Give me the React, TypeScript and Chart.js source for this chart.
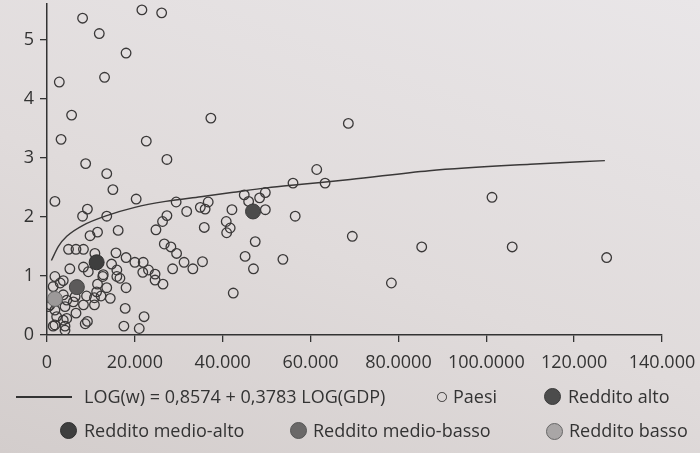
import React, { useEffect, useRef } from "react";
import { Chart, registerables } from "chart.js";

Chart.register(...registerables);

// GDP in thousands, w values
const paesiGdp = [
  8.1, 21.6, 26.1, 11.9, 18.0, 13.1, 2.8, 5.6, 37.3, 68.6, 3.2, 22.6, 27.3, 8.8, 13.6, 61.4, 56.0, 63.3,
  15.0, 1.8, 20.3, 9.2, 8.1, 13.6, 9.8, 11.5, 16.2, 4.9, 6.6, 8.3, 10.9, 15.7, 18.0, 20.0, 21.9, 14.7,
  5.2, 8.3, 9.4, 15.9, 21.8, 23.1, 24.6, 24.6, 26.4, 1.8, 3.7, 1.4, 12.7, 15.9, 13.6, 11.5, 18.0, 9.0,
  10.8, 12.3, 10.8, 8.3, 6.4, 4.5, 0.3, 1.8, 4.1, 6.6, 2.2, 3.7, 9.2, 8.7, 1.4, 4.1, 4.1, 17.8, 17.5,
  22.1, 21.0, 29.4, 31.8, 34.9, 36.7, 36.0, 27.3, 26.3, 24.8, 35.8, 26.7, 28.2, 29.5, 31.2, 33.2, 35.4,
  28.6, 40.8, 42.1, 40.9, 41.7, 44.9, 45.9, 48.4, 49.7, 49.7, 56.5, 47.4, 45.1, 47.0, 53.7, 42.4, 69.5,
  101.3, 85.3, 105.9, 127.4, 78.4, 3.0, 12.8, 16.6, 11.3, 4.5, 3.7, 6.0, 14.4, 1.8, 0.7,
];
const paesiW = [
  5.36, 5.5, 5.45, 5.1, 4.77, 4.36, 4.28, 3.72, 3.67, 3.58, 3.31, 3.28, 2.97, 2.9, 2.73, 2.8, 2.57, 2.57,
  2.46, 2.26, 2.3, 2.13, 2.01, 2.01, 1.68, 1.74, 1.77, 1.45, 1.45, 1.45, 1.38, 1.39, 1.31, 1.23, 1.23, 1.2,
  1.12, 1.15, 1.07, 1.1, 1.06, 1.1, 1.03, 0.93, 0.86, 0.99, 0.92, 0.82, 0.99, 0.99, 0.8, 0.86, 0.8, 0.66,
  0.63, 0.66, 0.51, 0.51, 0.65, 0.59, 0.48, 0.42, 0.48, 0.37, 0.31, 0.25, 0.23, 0.19, 0.15, 0.15, 0.08, 0.45, 0.15,
  0.31, 0.11, 2.25, 2.09, 2.16, 2.25, 2.13, 2.02, 1.92, 1.78, 1.82, 1.54, 1.49, 1.38, 1.23, 1.12, 1.24,
  1.12, 1.92, 2.12, 1.73, 1.81, 2.37, 2.26, 2.32, 2.41, 2.12, 2.01, 1.58, 1.33, 1.12, 1.28, 0.71, 1.67,
  2.33, 1.49, 1.49, 1.31, 0.88, 0.88, 1.02, 0.96, 0.73, 0.28, 0.68, 0.56, 0.62, 0.17, 0.51,
];

const curveGdp = [1.0, 2.6, 4.5, 8.3, 13.6, 20, 27, 35, 42, 50, 58, 69, 87, 110, 127];
const curveW = [1.26, 1.5, 1.67, 1.86, 2.02, 2.16, 2.26, 2.34, 2.41, 2.49, 2.55, 2.63, 2.78, 2.89, 2.95];

const altoGdp = [46.9];
const altoW = [2.09];
const medioAltoGdp = [11.3];
const medioAltoW = [1.23];
const medioBassoGdp = [6.8];
const medioBassoW = [0.81];
const bassoGdp = [1.8];
const bassoW = [0.61];

const xTickLabels = ["0", "20.000", "40.000", "60.000", "80.0000", "100.0000", "120.000", "140.000"];
const yTickLabels = ["0", "1", "2", "3", "4", "5"];

const legendLine = "LOG(w) = 0,8574 + 0,3783 LOG(GDP)";
const legendPaesi = "Paesi";
const legendAlto = "Reddito alto";
const legendMedioAlto = "Reddito medio-alto";
const legendMedioBasso = "Reddito medio-basso";
const legendBasso = "Reddito basso";

const FONT = "'Open Sans', 'Noto Sans', sans-serif";
const INK = "#333";

const pts = (xs: number[], ys: number[]) => xs.map((x, i) => ({ x, y: ys[i] }));

export default function App() {
  const ref = useRef<HTMLCanvasElement | null>(null);
  useEffect(() => {
    if (!ref.current) return;
    const tickFont = { family: FONT, size: 18 };
    const chart = new Chart(ref.current, {
      type: "scatter",
      data: {
        datasets: [
          {
            label: legendAlto,
            data: pts(altoGdp, altoW),
            pointRadius: 7.5,
            backgroundColor: "#4c4c4c",
            borderColor: "#3a3a3a",
            borderWidth: 1,
            order: 0,
          },
          {
            label: legendMedioAlto,
            data: pts(medioAltoGdp, medioAltoW),
            pointRadius: 7.5,
            backgroundColor: "#3e3e3e",
            borderColor: "#2e2e2e",
            borderWidth: 1,
            order: 0,
          },
          {
            label: legendMedioBasso,
            data: pts(medioBassoGdp, medioBassoW),
            pointRadius: 7.5,
            backgroundColor: "#5c5a5a",
            borderColor: "#444",
            borderWidth: 1,
            order: 0,
          },
          {
            label: legendBasso,
            data: pts(bassoGdp, bassoW),
            pointRadius: 7.5,
            backgroundColor: "#9c9999",
            borderColor: "#666",
            borderWidth: 1,
            order: 0,
          },
          {
            label: legendPaesi,
            data: pts(paesiGdp, paesiW),
            pointRadius: 4.8,
            backgroundColor: "rgba(0,0,0,0)",
            borderColor: "#3a3838",
            borderWidth: 1.3,
            order: 1,
          },
          {
            type: "line",
            label: legendLine,
            data: pts(curveGdp, curveW),
            showLine: true,
            pointRadius: 0,
            borderColor: "#3a3838",
            borderWidth: 1.4,
            fill: false,
            cubicInterpolationMode: "monotone",
            order: 2,
          } as any,
        ],
      },
      options: {
        animation: false,
        responsive: false,
        maintainAspectRatio: false,
        layout: { autoPadding: false, padding: { left: 0, right: 38, top: 4, bottom: 78 } },
        plugins: { legend: { display: false }, tooltip: { enabled: false } },
        scales: {
          x: {
            type: "linear",
            min: 0,
            max: 140,
            afterFit: (s: any) => {
              s.height = 40;
              s.paddingLeft = 0;
              s.paddingRight = 0;
            },
            ticks: {
              stepSize: 20,
              includeBounds: false,
              autoSkip: false,
              maxRotation: 0,
              padding: 10,
              color: INK,
              font: tickFont,
              callback: (v: any) => xTickLabels[Math.round(Number(v) / 20)] ?? "",
            },
            grid: { drawOnChartArea: false, drawTicks: true, tickLength: 7, color: INK, lineWidth: 1.3 },
            border: { display: true, color: INK, width: 1.5 },
          },
          y: {
            type: "linear",
            min: 0,
            max: 5.6,
            afterFit: (s: any) => {
              s.width = 47;
              s.paddingTop = 0;
              s.paddingBottom = 0;
            },
            ticks: {
              stepSize: 1,
              includeBounds: false,
              padding: 6,
              color: INK,
              font: tickFont,
              callback: (v: any) => yTickLabels[Math.round(Number(v))] ?? "",
            },
            grid: { drawOnChartArea: false, drawTicks: true, tickLength: 7, color: INK, lineWidth: 1.3 },
            border: { display: true, color: INK, width: 1.5 },
          },
        },
      },
    });
    return () => chart.destroy();
  }, []);

  const text = (left: number, top: number, s: string) => (
    <span
      style={{
        position: "absolute",
        left,
        top,
        transform: "translateY(-50%)",
        fontFamily: FONT,
        fontSize: 18,
        color: INK,
        whiteSpace: "nowrap",
        lineHeight: "22px",
      }}
    >
      {s}
    </span>
  );
  const dot = (cx: number, cy: number, r: number, fill: string, border: string, bw = 1) => (
    <div
      style={{
        position: "absolute",
        left: cx - r,
        top: cy - r,
        width: 2 * r,
        height: 2 * r,
        borderRadius: "50%",
        background: fill,
        border: `${bw}px solid ${border}`,
        boxSizing: "border-box",
      }}
    />
  );

  return (
    <div
      style={{
        position: "absolute",
        left: 0,
        top: 0,
        width: 700,
        height: 453,
        overflow: "hidden",
        background: "linear-gradient(200deg, #e9e6e8 0%, #e0dbdb 55%, #d3cdcc 100%)",
      }}
    >
      <canvas ref={ref} width={700} height={453} style={{ position: "absolute", left: 0, top: 0 }} />
      <div style={{ position: "absolute", left: 16, top: 396, width: 56, height: 1.5, background: INK }} />
      {text(84, 396, legendLine)}
      {dot(442, 397, 4.8, "transparent", "#3a3838", 1.3)}
      {text(453, 396, legendPaesi)}
      {dot(552, 396, 8.5, "#4c4c4c", "#3a3a3a")}
      {text(568, 396, legendAlto)}
      {dot(68, 430, 8.5, "#3e3e3e", "#2e2e2e")}
      {text(84, 430, legendMedioAlto)}
      {dot(298, 430, 8.5, "#6a6868", "#555")}
      {text(313, 430, legendMedioBasso)}
      {dot(554, 431, 8.5, "#a9a6a6", "#666")}
      {text(569, 430, legendBasso)}
    </div>
  );
}
